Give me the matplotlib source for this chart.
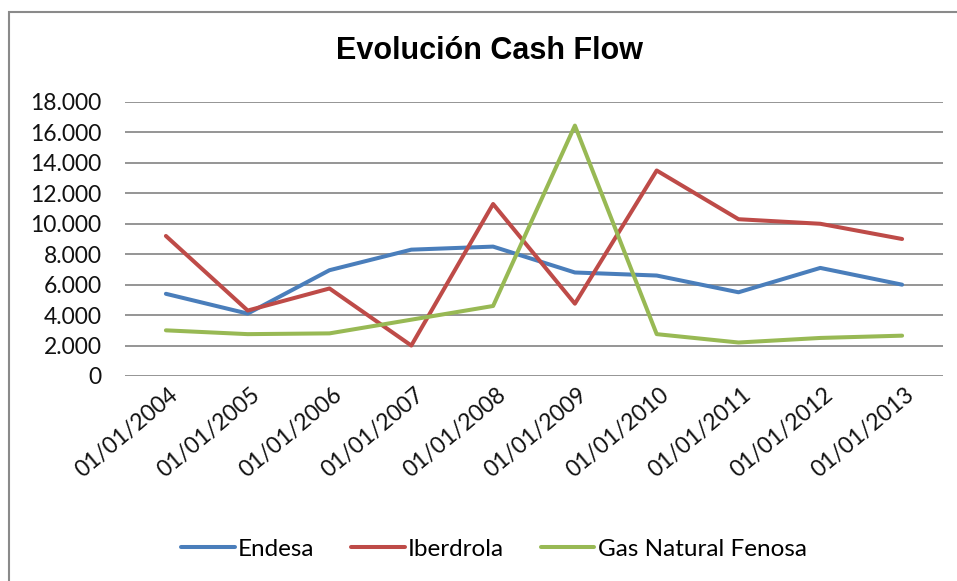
import matplotlib
matplotlib.use("Agg")
from matplotlib import pyplot as plt
from matplotlib.patches import Rectangle
from matplotlib.ticker import FuncFormatter
import matplotlib.transforms as mtransforms

fechas = ["01/01/2004", "01/01/2005", "01/01/2006", "01/01/2007", "01/01/2008",
          "01/01/2009", "01/01/2010", "01/01/2011", "01/01/2012", "01/01/2013"]
endesa = [5400, 4100, 6950, 8300, 8500, 6800, 6600, 5500, 7100, 6000]
iberdrola = [9200, 4300, 5750, 2000, 11300, 4750, 13500, 10300, 10000, 9000]
gas_natural = [3000, 2750, 2800, 3700, 4600, 16450, 2750, 2200, 2500, 2650]

series = [
    ("Endesa", endesa, "#4A7EBB"),
    ("Iberdrola", iberdrola, "#BE4B48"),
    ("Gas Natural Fenosa", gas_natural, "#98B954"),
]

plt.rcParams["font.family"] = ["Lato", "DejaVu Sans"]

fig = plt.figure(figsize=(9.57, 5.81), dpi=100)
ax = fig.add_axes([125 / 957, 1 - 376 / 581, (943 - 125) / 957, (376 - 102) / 581])

x = list(range(len(fechas)))
for name, values, color in series:
    ax.plot(x, values, color=color, linewidth=2.9, label=name, solid_capstyle="round")

ax.set_xlim(-0.5, len(fechas) - 0.5)
ax.set_ylim(0, 18000)
ax.set_yticks(range(0, 18001, 2000))
ax.yaxis.set_major_formatter(FuncFormatter(lambda v, p: f"{int(v):,}".replace(",", ".")))
ax.grid(axis="y", color="#8C8C8C", linewidth=1.3)
ax.set_axisbelow(True)
for s in ax.spines.values():
    s.set_visible(False)
ax.tick_params(axis="both", length=0, labelsize=16.5, colors="#111111")
ax.tick_params(axis="y", pad=17)

ax.set_xticks(x)
ax.set_xticklabels(fechas, rotation=40, ha="right", va="top", rotation_mode="anchor")
offset = mtransforms.ScaledTranslation(3 / 100, -3 / 100, fig.dpi_scale_trans)
for lbl in ax.get_xticklabels():
    lbl.set_transform(lbl.get_transform() + offset)

fig.text(489 / 957, 1 - 51 / 581, "Evolución Cash Flow", ha="center", va="center",
         fontsize=22, fontweight="bold", family=["Liberation Sans", "DejaVu Sans"])

fig.legend(loc="center", bbox_to_anchor=(494 / 957, 1 - 549 / 581), ncol=3, frameon=False,
           fontsize=17.5, handlelength=2.2, handletextpad=0.15, columnspacing=1.5)

fig.patches.append(Rectangle((9 / 957, -0.1), 1.2, 1.1 - 12 / 581, transform=fig.transFigure,
                             fill=False, edgecolor="#8A8A8A", linewidth=1.5))

fig.savefig("out.png", dpi=100)
